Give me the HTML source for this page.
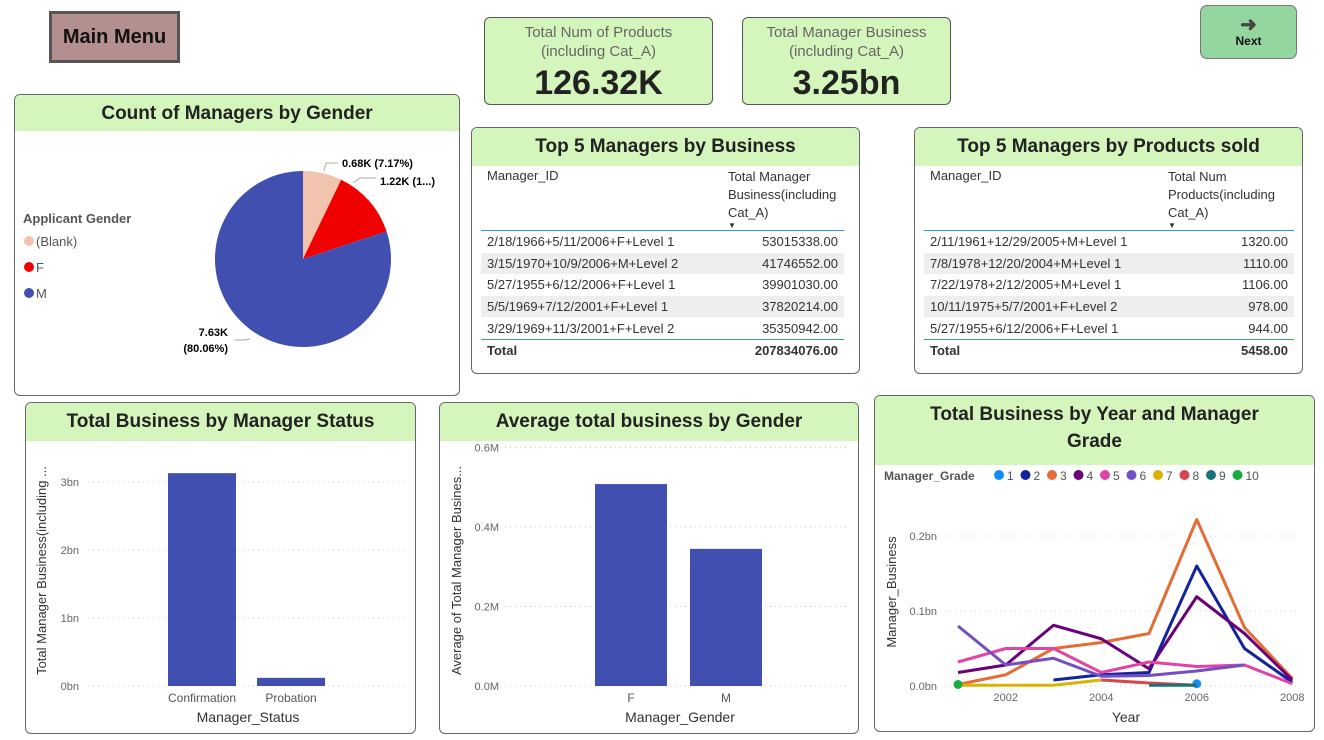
<!DOCTYPE html>
<html><head><meta charset="utf-8"><style>
body{margin:0;width:1324px;height:740px;background:#fff;position:relative;overflow:hidden;font-family:"Liberation Sans",Arial,sans-serif;}
.abs{position:absolute;box-sizing:border-box;}
.card{border:1px solid #666;border-radius:6px;background:#fff;overflow:hidden;}
.hdr{background:#d4f5bc;font-weight:bold;font-size:19px;color:#222;text-align:center;}
.kpi{background:#d4f5bc;border:1px solid #555;border-radius:6px;text-align:center;color:#666;font-size:15px;line-height:19px;}
.kpi b{display:block;color:#222;font-size:34px;line-height:40px;margin-top:2px;}
table{border-collapse:collapse;font-size:13px;color:#333;}
td{padding:0 6px;height:21.6px;}
.arr{display:block;height:7px;line-height:7px;font-size:8px;}
svg text{font-family:"Liberation Sans",Arial,sans-serif;}
</style></head><body>
<div class="abs" style="left:49px;top:11px;width:131px;height:52px;background:#b48f8f;border:3px solid #555;font-size:20px;font-weight:bold;color:#111;text-align:center;line-height:46px;">Main Menu</div>
<div class="abs kpi" style="left:484px;top:17px;width:229px;height:88px;padding-top:5px;">Total Num of Products<br>(including Cat_A)<b>126.32K</b></div>
<div class="abs kpi" style="left:742px;top:17px;width:209px;height:88px;padding-top:5px;">Total Manager Business<br>(including Cat_A)<b>3.25bn</b></div>
<div class="abs" style="left:1200px;top:5px;width:97px;height:54px;background:#95d5a0;border:1px solid #777;border-radius:7px;text-align:center;font-size:12px;font-weight:bold;color:#111;line-height:14px;padding-top:12px;"><span style="font-size:20px;color:#444">&#10140;</span><br>Next</div>

<div class="abs card" style="left:14px;top:94px;width:446px;height:302px;"><div class="hdr" style="height:36px;line-height:38px;">Count of Managers by Gender</div></div>
<div class="abs card" style="left:471px;top:127px;width:389px;height:247px;">
<div class="hdr" style="height:38px;line-height:38px;">Top 5 Managers by Business</div>
<table style="position:absolute;left:9px;top:38px;width:363px;">
<tr style="vertical-align:top"><td style="padding-top:2px;height:62px">Manager_ID</td><td style="padding-top:2px;width:110px;line-height:18px;height:62px">Total Manager Business(including Cat_A)<span class="arr">&#9660;</span></td></tr>
<tr style="border-top:1px solid #3a8fde"><td>2/18/1966+5/11/2006+F+Level 1</td><td style="text-align:right">53015338.00</td></tr>
<tr style="background:#eee"><td>3/15/1970+10/9/2006+M+Level 2</td><td style="text-align:right">41746552.00</td></tr>
<tr><td>5/27/1955+6/12/2006+F+Level 1</td><td style="text-align:right">39901030.00</td></tr>
<tr style="background:#eee"><td>5/5/1969+7/12/2001+F+Level 1</td><td style="text-align:right">37820214.00</td></tr>
<tr><td>3/29/1969+11/3/2001+F+Level 2</td><td style="text-align:right">35350942.00</td></tr>
<tr style="border-top:1px solid #3a8fde;font-weight:bold"><td>Total</td><td style="text-align:right">207834076.00</td></tr></table></div>
<div class="abs card" style="left:914px;top:127px;width:389px;height:247px;">
<div class="hdr" style="height:38px;line-height:38px;">Top 5 Managers by Products sold</div>
<table style="position:absolute;left:9px;top:38px;width:370px;">
<tr style="vertical-align:top"><td style="padding-top:2px;height:62px">Manager_ID</td><td style="padding-top:2px;width:120px;line-height:18px;height:62px">Total Num Products(including Cat_A)<span class="arr">&#9660;</span></td></tr>
<tr style="border-top:1px solid #3a8fde"><td>2/11/1961+12/29/2005+M+Level 1</td><td style="text-align:right">1320.00</td></tr>
<tr style="background:#eee"><td>7/8/1978+12/20/2004+M+Level 1</td><td style="text-align:right">1110.00</td></tr>
<tr><td>7/22/1978+2/12/2005+M+Level 1</td><td style="text-align:right">1106.00</td></tr>
<tr style="background:#eee"><td>10/11/1975+5/7/2001+F+Level 2</td><td style="text-align:right">978.00</td></tr>
<tr><td>5/27/1955+6/12/2006+F+Level 1</td><td style="text-align:right">944.00</td></tr>
<tr style="border-top:1px solid #3a8fde;font-weight:bold"><td>Total</td><td style="text-align:right">5458.00</td></tr></table></div>
<div class="abs card" style="left:25px;top:402px;width:391px;height:332px;"><div class="hdr" style="height:38px;line-height:38px;">Total Business by Manager Status</div></div>
<div class="abs card" style="left:439px;top:402px;width:420px;height:332px;"><div class="hdr" style="height:38px;line-height:38px;">Average total business by Gender</div></div>
<div class="abs card" style="left:874px;top:395px;width:441px;height:337px;"><div class="hdr" style="height:64px;line-height:27px;padding-top:5px;">Total Business by Year and Manager<br>Grade</div></div>

<svg id="s" class="abs" style="left:0;top:0;pointer-events:none" width="1324" height="740" xmlns="http://www.w3.org/2000/svg"></svg>
<script>
const pieLabels=["(Blank)","F","M"];
const pieValues=[680,1218,7630];
const pieColors=["#f2c4ae","#f00000","#4150b0"];
const pieText=["0.68K (7.17%)","1.22K (1...)","7.63K"];
const statusCats=["Confirmation","Probation"];
const statusVals=[3.13,0.12];
const statusTicks=[0,1,2,3];
const genderCats=["F","M"];
const genderVals=[0.508,0.345];
const genderTicks=[0,0.2,0.4,0.6];
const years=[2001,2002,2003,2004,2005,2006,2007,2008];
const gradeNames=["1","2","3","4","5","6","7","8","9","10"];
const gradeColors=["#118dff","#12239e","#e66c37","#6b007b","#e044a7","#744ec2","#d9b300","#d64550","#197278","#1aab40"];
const g1=[null,null,null,null,null,0.003,null,null];
const g2=[null,null,0.008,0.015,0.018,0.16,0.05,0.005];
const g3=[0.002,0.015,0.05,0.058,0.07,0.222,0.078,0.01];
const g4=[0.018,0.028,0.081,0.063,0.023,0.119,0.07,0.008];
const g5=[0.032,0.05,0.05,0.018,0.032,0.026,0.028,0.003];
const g6=[0.08,0.028,0.037,0.013,0.014,0.02,0.028,null];
const g7=[0.001,0.001,0.001,0.008,null,null,null,null];
const g8=[null,null,null,0.008,0.004,0.001,null,null];
const g9=[null,null,null,null,0.001,0.001,null,null];
const g10=[0.002,null,null,null,null,null,null,null];
const grades=[g1,g2,g3,g4,g5,g6,g7,g8,g9,g10];
const lineTicks=[0,0.1,0.2];
const yearTicks=[2002,2004,2006,2008];

const S=document.getElementById('s');const NS="http://www.w3.org/2000/svg";
function mk(t,a,txt){const e=document.createElementNS(NS,t);for(const k in a)e.setAttribute(k,a[k]);if(txt!=null)e.textContent=txt;S.appendChild(e);return e;}

// pie
const cx=303,cy=259,r=88;const tot=pieValues.reduce((a,b)=>a+b,0);let ang=0;
pieValues.forEach((v,i)=>{const a0=ang,a1=ang+v/tot*2*Math.PI;ang=a1;
const p=(a)=>[cx+r*Math.sin(a),cy-r*Math.cos(a)];const [x0,y0]=p(a0),[x1,y1]=p(a1);
const e=mk('path',{d:`M${cx},${cy}L${x0},${y0}A${r},${r} 0 ${a1-a0>Math.PI?1:0} 1 ${x1},${y1}Z`,fill:pieColors[i]});

});
mk('path',{d:"M324,171 L326,163 L338,163",stroke:"#aaa",fill:"none"});
mk('text',{x:342,y:167,"font-size":11,"font-weight":"bold"},pieText[0]);
mk('path',{d:"M353,183 L360,178 L376,178",stroke:"#aaa",fill:"none"});
mk('text',{x:380,y:185,"font-size":11,"font-weight":"bold"},pieText[1]);
mk('path',{d:"M250,339 L244,340 L234,340",stroke:"#aaa",fill:"none"});
mk('text',{x:228,y:336,"font-size":11,"font-weight":"bold","text-anchor":"end"},pieText[2]);
mk('text',{x:228,y:352,"font-size":11,"font-weight":"bold","text-anchor":"end"},"(80.06%)");
mk('text',{x:23,y:223,"font-size":13,"font-weight":"bold",fill:"#555"},"Applicant Gender");
pieLabels.forEach((l,i)=>{mk('circle',{cx:29,cy:241+i*26,r:5,fill:pieColors[i]});const t=mk('text',{x:36,y:246+i*26,"font-size":13,fill:"#555"},l);

});

function barChart(cats,vals,ticks,y0,pxPer,x0g,x1g,barX,barW,tickX,fmt,axisX,axisT,xTitleX,xTitle,nm){
 ticks.forEach(t=>{const y=y0-t*pxPer;mk('line',{x1:x0g,x2:x1g,y1:y,y2:y,stroke:"#ccc","stroke-dasharray":"1,4"});
 mk('text',{x:tickX,y:y+4,"font-size":11,fill:"#666","text-anchor":"end"},fmt(t));});
 cats.forEach((c,i)=>{const h=vals[i]*pxPer;const b=mk('rect',{x:barX[i],y:y0-h,width:barW,height:h,fill:"#4150b0"});
 
 
 mk('text',{x:barX[i]+barW/2,y:y0+16,"font-size":12,fill:"#555","text-anchor":"middle"},c);});
 mk('text',{x:axisX,y:(y0+455)/2,"font-size":13,fill:"#333","text-anchor":"middle",transform:`rotate(-90 ${axisX} ${(y0+455)/2})`},axisT);
 mk('text',{x:xTitleX,y:722,"font-size":14,fill:"#333","text-anchor":"middle"},xTitle);
}
barChart(statusCats,statusVals,statusTicks,686,68,88,405,[168,257],68,79,t=>t+"bn",46,"Total Manager Business(including ...",248,"Manager_Status","status");
barChart(genderCats,genderVals,genderTicks,686,397.5,505,850,[595,690],72,499,t=>t.toFixed(1)+"M",461,"Average of Total Manager Busines...",680,"Manager_Gender","gender");

// line chart
const X=y=>958+(y-2001)*47.75, Y=v=>686-v*750;
lineTicks.forEach(t=>{mk('line',{x1:945,x2:1300,y1:Y(t),y2:Y(t),stroke:"#ccc","stroke-dasharray":"1,4"});
 mk('text',{x:937,y:Y(t)+4,"font-size":11,fill:"#666","text-anchor":"end"},t.toFixed(1)+"bn");});
yearTicks.forEach(y=>mk('text',{x:X(y),y:701,"font-size":11,fill:"#666","text-anchor":"middle"},y));
mk('text',{x:1126,y:722,"font-size":14,fill:"#333","text-anchor":"middle"},"Year");
mk('text',{x:896,y:592,"font-size":13,fill:"#333","text-anchor":"middle",transform:"rotate(-90 896 592)"},"Manager_Business");
mk('text',{x:884,y:480,"font-size":12,"font-weight":"bold",fill:"#555"},"Manager_Grade");
let lx=999;gradeNames.forEach((n,i)=>{mk('circle',{cx:lx,cy:475,r:5,fill:gradeColors[i]});const lt=mk('text',{x:lx+8,y:480,"font-size":12,fill:"#555"},n);
 
 
 lx+=26.5;});
grades.forEach((s,gi)=>{let segs=[],cur=[];s.forEach((v,i)=>{if(v==null){if(cur.length)segs.push(cur);cur=[];}else cur.push([X(years[i]),Y(v)]);});if(cur.length)segs.push(cur);
 segs.forEach(sg=>{if(sg.length==1){const c=mk('circle',{cx:sg[0][0],cy:sg[0][1],r:4.5,fill:gradeColors[gi]});
 
 }
 else{const p=mk('polyline',{points:sg.map(q=>q.join(',')).join(' '),fill:"none",stroke:gradeColors[gi],"stroke-width":3,"stroke-linejoin":"round"});
 
 }});});
</script>
</body></html>
